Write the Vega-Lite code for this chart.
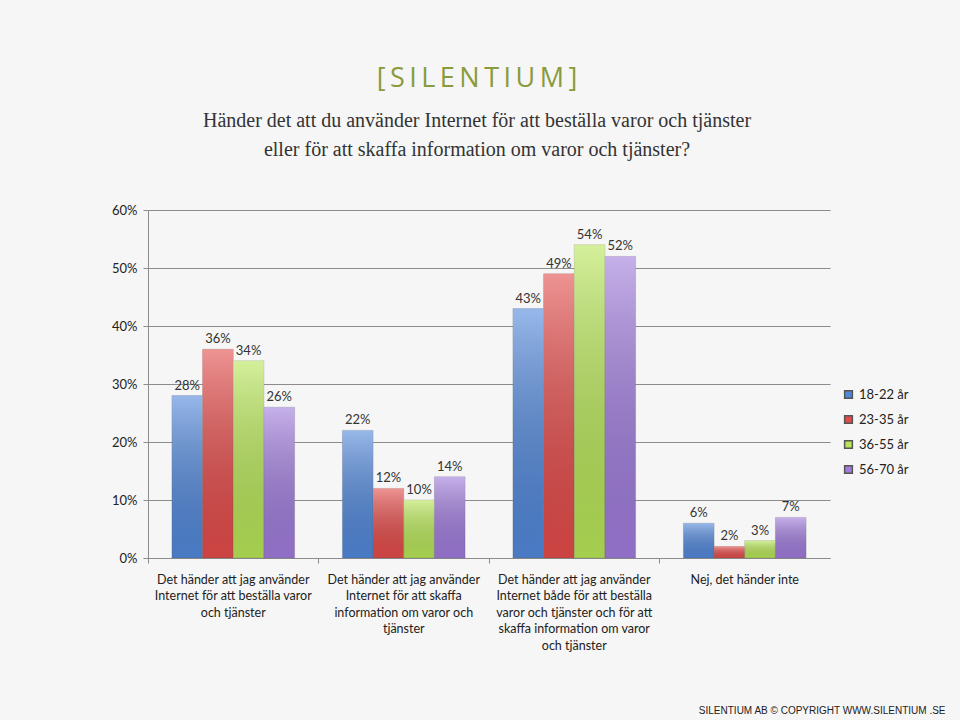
{
  "$schema": "https://vega.github.io/schema/vega-lite/v6.json",
  "width": 682,
  "height": 348,
  "autosize": {"type": "none"},
  "padding": {"left": 148, "top": 210, "right": 130, "bottom": 162},
  "background": "#f6f6f6",
  "title": {
    "text": "[\u2009S\u2009I\u2009L\u2009E\u2009N\u2009T\u2009I\u2009U\u2009M\u2009]",
    "subtitle": ["Händer det att du använder Internet för att beställa varor och tjänster", "eller för att skaffa information om varor och tjänster?"],
    "anchor": "middle",
    "frame": "group",
    "font": "Open Sans",
    "fontSize": 27,
    "fontWeight": "normal",
    "color": "#8a9b3c",
    "subtitleFont": "Liberation Serif",
    "subtitleFontSize": 20,
    "subtitleColor": "#333333",
    "subtitleLineHeight": 29,
    "subtitlePadding": 18,
    "offset": 43,
    "dx": -12
  },
  "data": {
    "values": [
      {"cat": "Det händer att jag använder|Internet för att beställa varor|och tjänster", "group": "18-22 år", "value": 0.28},
      {"cat": "Det händer att jag använder|Internet för att beställa varor|och tjänster", "group": "23-35 år", "value": 0.36},
      {"cat": "Det händer att jag använder|Internet för att beställa varor|och tjänster", "group": "36-55 år", "value": 0.34},
      {"cat": "Det händer att jag använder|Internet för att beställa varor|och tjänster", "group": "56-70 år", "value": 0.26},
      {"cat": "Det händer att jag använder|Internet för att skaffa|information om varor och|tjänster", "group": "18-22 år", "value": 0.22},
      {"cat": "Det händer att jag använder|Internet för att skaffa|information om varor och|tjänster", "group": "23-35 år", "value": 0.12},
      {"cat": "Det händer att jag använder|Internet för att skaffa|information om varor och|tjänster", "group": "36-55 år", "value": 0.10},
      {"cat": "Det händer att jag använder|Internet för att skaffa|information om varor och|tjänster", "group": "56-70 år", "value": 0.14},
      {"cat": "Det händer att jag använder|Internet både för att beställa|varor och tjänster och för att|skaffa information om varor|och tjänster", "group": "18-22 år", "value": 0.43},
      {"cat": "Det händer att jag använder|Internet både för att beställa|varor och tjänster och för att|skaffa information om varor|och tjänster", "group": "23-35 år", "value": 0.49},
      {"cat": "Det händer att jag använder|Internet både för att beställa|varor och tjänster och för att|skaffa information om varor|och tjänster", "group": "36-55 år", "value": 0.54},
      {"cat": "Det händer att jag använder|Internet både för att beställa|varor och tjänster och för att|skaffa information om varor|och tjänster", "group": "56-70 år", "value": 0.52},
      {"cat": "Nej, det händer inte", "group": "18-22 år", "value": 0.06},
      {"cat": "Nej, det händer inte", "group": "23-35 år", "value": 0.02},
      {"cat": "Nej, det händer inte", "group": "36-55 år", "value": 0.03},
      {"cat": "Nej, det händer inte", "group": "56-70 år", "value": 0.07}
    ]
  },
  "encoding": {
    "x": {
      "field": "cat",
      "type": "nominal",
      "sort": null,
      "scale": {"paddingInner": 0, "paddingOuter": 0},
      "axis": {
        "labelExpr": "split(datum.label, '|')",
        "labelAngle": 0,
        "labelFont": "Lato",
        "labelFontSize": 12.5,
        "labelColor": "#222222",
        "labelLineHeight": 16.5,
        "labelPadding": 10,
        "labelLimit": 200,
        "bandPosition": 0,
        "tickSize": 5,
        "tickColor": "#8c8c8c",
        "domainColor": "#8c8c8c",
        "title": "SILENTIUM AB © COPYRIGHT WWW.SILENTIUM .SE",
        "titleFont": "Liberation Sans",
        "titleFontSize": 10,
        "titleFontWeight": "normal",
        "titleColor": "#222222",
        "titleAnchor": "end",
        "titleAlign": "right",
        "titleX": 797,
        "titleY": 152,
        "titleBaseline": "middle"
      }
    },
    "xOffset": {"field": "group", "type": "nominal", "scale": {"paddingOuter": 0.78, "paddingInner": 0}},
    "y": {
      "field": "value",
      "type": "quantitative",
      "scale": {"domain": [0, 0.6]},
      "axis": {
        "format": ".0%",
        "values": [0, 0.1, 0.2, 0.3, 0.4, 0.5, 0.6],
        "title": null,
        "labelFont": "Lato",
        "labelFontSize": 13,
        "labelColor": "#222222",
        "labelPadding": 6,
        "tickSize": 5,
        "tickColor": "#8c8c8c",
        "gridColor": "#8c8c8c",
        "domainColor": "#8c8c8c"
      }
    }
  },
  "layer": [
    {
      "mark": {"type": "bar", "stroke": "#555555", "strokeWidth": 0.4, "strokeOpacity": 0.5},
      "encoding": {
        "color": {
          "field": "group",
          "type": "nominal",
          "scale": {"domain": ["18-22 år", "23-35 år", "36-55 år", "56-70 år"], "range": ["#5288da", "#e34c4a", "#b8e658", "#a07cdc"]},
          "legend": {
            "title": null,
            "orient": "none",
            "legendX": 694,
            "legendY": 178,
            "symbolType": "square",
            "symbolSize": 60,
            "labelFont": "Lato",
            "labelFontSize": 13,
            "labelColor": "#222222",
            "rowPadding": 10,
            "labelOffset": 4
          }
        }
      }
    },
    {
      "mark": {
        "type": "bar",
        "fill": {
          "gradient": "linear",
          "x1": 0, "y1": 0, "x2": 0, "y2": 1,
          "stops": [
            {"offset": 0, "color": "rgba(255,255,255,0.4)"},
            {"offset": 1, "color": "rgba(0,0,0,0.1)"}
          ]
        }
      },
      "encoding": {}
    },
    {
      "mark": {"type": "text", "dy": -10, "font": "Lato", "fontSize": 13, "color": "#333333"},
      "encoding": {
        "text": {"field": "value", "type": "quantitative", "format": ".0%"}
      }
    }
  ],
  "config": {
    "view": {"stroke": null}
  }
}
